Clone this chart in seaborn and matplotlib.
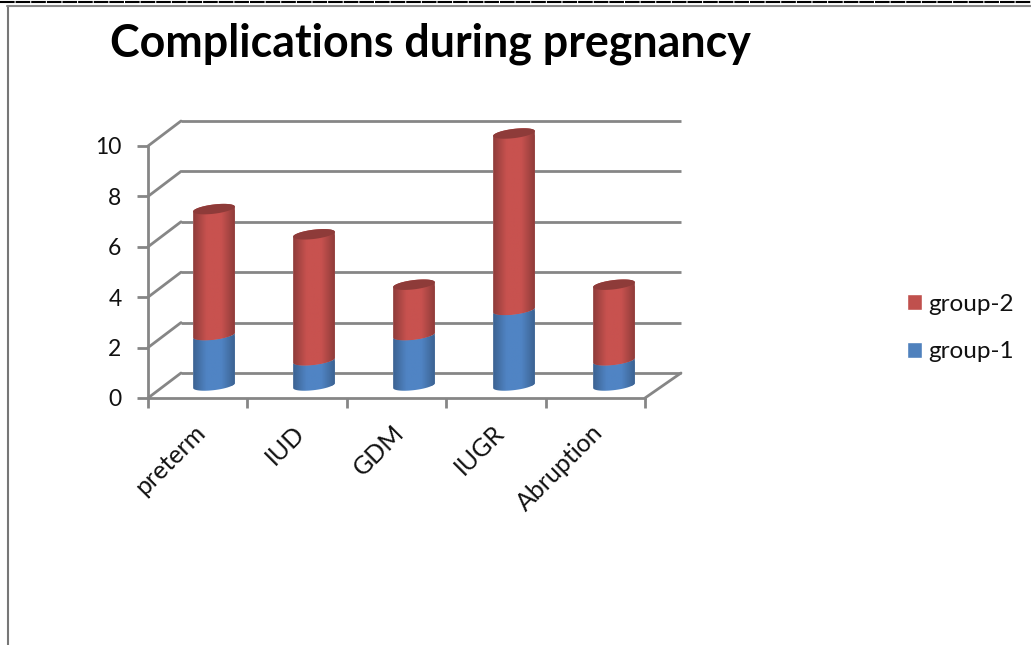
import numpy as np
import matplotlib
matplotlib.use("Agg")
import matplotlib.pyplot as plt
from matplotlib.colors import LinearSegmentedColormap
from matplotlib.lines import Line2D
from matplotlib.patches import ConnectionPatch, Polygon
from matplotlib.transforms import ScaledTranslation
import seaborn as sns

categories = ["preterm", "IUD", "GDM", "IUGR", "Abruption"]
group_1 = [2, 1, 2, 3, 1]
group_2 = [5, 5, 2, 7, 3]
y_ticks = [0, 2, 4, 6, 8, 10]

W, H = 1031, 645
LEFT, RIGHT, TOP, BOTTOM = 148, 645, 146, 398
DEPTH_X, DEPTH_Y = 33, 25
AXIS_GREY = "#868686"
RED, BLUE = "#C0504D", "#4F81BD"

sns.set_theme(style="white")
plt.rcParams["font.family"] = ["Lato", "DejaVu Sans"]

fig = plt.figure(figsize=(W / 100, H / 100), dpi=100, facecolor="white")


def plot_axes(dx, dy, grow=0):
    """Axes over the chart area, shifted by a depth offset given in pixels."""
    ax = fig.add_axes([(LEFT + dx) / W, 1 - (BOTTOM - dy) / H,
                       (RIGHT - LEFT + grow) / W, (BOTTOM - TOP) / H])
    ax.patch.set_alpha(0)
    return ax


def setup(ax):
    ax.set_xlim(-0.5, len(categories) - 0.5)
    ax.set_ylim(0, 10)


# Back wall: horizontal gridlines only
back = plot_axes(DEPTH_X, DEPTH_Y, grow=3)
setup(back)
sns.despine(ax=back, left=True, bottom=True)
back.set_xticks([])
back.set_yticks(y_ticks)
back.tick_params(left=False, labelleft=False)
back.grid(axis="y", color=AXIS_GREY, lw=2)
back.set_axisbelow(True)
for gl in back.yaxis.get_gridlines():
    gl.set_clip_on(False)
    gl.set_solid_capstyle("butt")

# Middle plane: the stacked cylinders
mid = plot_axes(16, DEPTH_Y / 2, grow=3)
totals = np.add(group_1, group_2)
sns.barplot(x=categories, y=totals, color=RED, width=0.42, saturation=1, ax=mid, label="group-2")
sns.barplot(x=categories, y=group_1, color=BLUE, width=0.42, saturation=1, ax=mid, label="group-1")
handles, labels = mid.get_legend_handles_labels()
mid.get_legend().remove()
setup(mid)
mid.axis("off")

px_x = len(categories) / (RIGHT - LEFT + 3)
px_y = 10 / (BOTTOM - TOP)
TILT = np.deg2rad(7)
RX, RY = 21.0, 4.6


def rim(cx, y, t):
    """Points on a tilted elliptical rim, in data units of the middle axes."""
    ex = RX * np.cos(t) * np.cos(TILT) + RY * np.sin(t) * np.sin(TILT)
    ey = RX * np.cos(t) * np.sin(TILT) - RY * np.sin(t) * np.cos(TILT)
    return np.column_stack([cx + ex * px_x, y + ey * px_y])


def shading(colour, edge):
    return LinearSegmentedColormap.from_list("cyl", [edge, colour, colour, edge], N=128)


front_arc = np.linspace(0, np.pi, 40)
ramp = np.linspace(0, 1, 128)[None, :]
n = len(categories)
# The first n bars are the taller red ones, the rest are the blue ones
for patch, is_upper, colour, edge in (
    [(p, False, "#5084C4", "#3A608E") for p in mid.patches[n:]]
    + [(p, True, "#C8524F", "#8A3A38") for p in mid.patches[:n]]
):
    cx = patch.get_x() + patch.get_width() / 2
    i = int(round(cx))
    y_top = patch.get_height()
    y_low = group_1[i] if is_upper else 0
    top_arc = front_arc + np.pi if is_upper else front_arc[::-1]
    outline = np.vstack([rim(cx, y_low, front_arc), rim(cx, y_top, top_arc)])
    poly = Polygon(outline, closed=True, transform=mid.transData, fc="none", ec="none", clip_on=False)
    mid.add_patch(poly)
    patch.set_clip_path(poly)
    img = mid.imshow(ramp, cmap=shading(colour, edge), aspect="auto",
                     zorder=patch.get_zorder() + (2 if is_upper else 1),
                     extent=(cx - 0.22, cx + 0.22, y_low - 1, y_top + 1), interpolation="bilinear")
    img.set_clip_box(fig.bbox)
    img.set_clip_path(poly)
    if is_upper:
        cap = Polygon(rim(cx, y_top, np.linspace(0, 2 * np.pi, 60)), closed=True,
                      transform=mid.transData, fc="#8E3B39", ec="none",
                      zorder=patch.get_zorder() + 3, clip_on=False)
        mid.add_patch(cap)
setup(mid)

# Front plane: the value axis and category axis
front = plot_axes(0, 0)
setup(front)
sns.despine(ax=front)
for side in ("left", "bottom"):
    front.spines[side].set_color(AXIS_GREY)
    front.spines[side].set_linewidth(2)
front.set_yticks(y_ticks)
front.set_xticks(range(n))
front.set_xticklabels(categories, rotation=45, ha="right", rotation_mode="anchor")
front.set_xticks(np.arange(n + 1) - 0.5, minor=True)
front.tick_params(axis="x", which="major", length=0, labelsize=18, pad=16.5, colors="#111111")
front.tick_params(axis="x", which="minor", length=7, width=2, color=AXIS_GREY, bottom=True)
front.tick_params(axis="y", length=8, width=2, color=AXIS_GREY, labelsize=16.5, pad=11, left=True,
                  labelcolor="#111111")
nudge = ScaledTranslation(-4 / 100, 0, fig.dpi_scale_trans)
for lab in front.get_xticklabels():
    lab.set_transform(lab.get_transform() + nudge)

# Depth lines joining the front plane to the back wall
for v in y_ticks:
    fig.add_artist(ConnectionPatch((-0.5, v), (-0.5, v), "data", "data", axesA=front, axesB=back,
                                   color=AXIS_GREY, lw=2))
fig.add_artist(ConnectionPatch((n - 0.5, 0), (n - 0.5, 0), "data", "data", axesA=front, axesB=back,
                               color=AXIS_GREY, lw=2))

fig.legend(handles[:2], labels[:2], loc="center left", bbox_to_anchor=(907 / W, 1 - 328 / H),
           frameon=False, fontsize=17.5, handlelength=0.62, handleheight=0.62, handletextpad=0.27,
           labelspacing=1.1, labelcolor="#111111", borderpad=0, borderaxespad=0)

fig.text(430 / W, 1 - 44 / H, "Complications during pregnancy", ha="center", va="center",
         fontsize=32.2, fontweight="bold", color="black")

# Page frame around the figure
fig.add_artist(Line2D([7.5 / W, 7.5 / W], [0, 1 - 6 / H], color="#777777", lw=1.5))
fig.add_artist(Line2D([7 / W, 1], [1 - 6 / H, 1 - 6 / H], color="#888888", lw=1.5))
fig.add_artist(Line2D([0, 1], [1 - 2 / H, 1 - 2 / H], color="black", lw=1.5, ls=(0, (7, 0.5))))

fig.savefig("out.png", dpi=100)
